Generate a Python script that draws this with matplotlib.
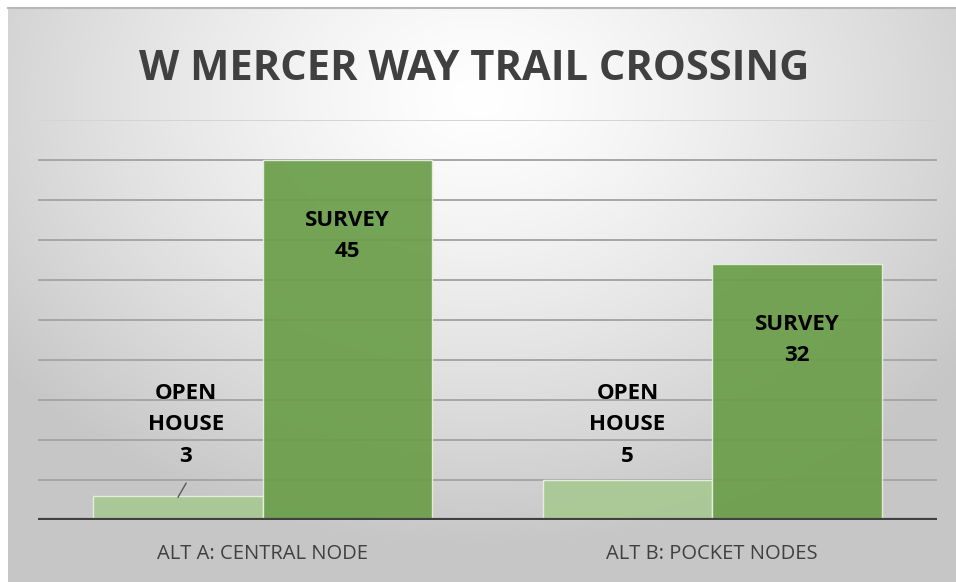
import numpy as np
import matplotlib
matplotlib.use("Agg")
import matplotlib.pyplot as plt

categories = ["ALT A: CENTRAL NODE", "ALT B: POCKET NODES"]
series_names = ["OPEN\nHOUSE", "SURVEY"]
open_house = [3, 5]
survey = [45, 32]
title = "W MERCER WAY TRAIL CROSSING"

W, H = 956, 582
fig = plt.figure(figsize=(W / 100, H / 100), dpi=100)
fig.patch.set_facecolor("white")

# gradient background panel
bg = fig.add_axes([8 / W, 0, 1 - 8 / W, 1 - 7 / H], zorder=0)
yy, xx = np.mgrid[0:575, 0:948]
cx, cy = 470, 90
r = np.sqrt(((xx - cx) / 1.0) ** 2 + ((yy - cy) / 0.75) ** 2)
r = r / r.max()
val = 1.0 - 0.22 * np.clip(r * 1.35, 0, 1) ** 1.3
img = np.dstack([val, val, val])
bg.imshow(img, aspect="auto", extent=[0, 1, 0, 1], interpolation="bilinear")
bg.set_xlim(0, 1); bg.set_ylim(0, 1)
bg.axis("off")
bg.plot([0, 1], [0.999, 0.999], color="#b8b8b8", lw=1.5, transform=bg.transAxes, clip_on=False)

ax = fig.add_axes([38 / W, (H - 520) / H, (937 - 38) / W, 400 / H], zorder=1)
ax.patch.set_alpha(0)
ax.set_xlim(-0.5, 1.5)
ax.set_ylim(0, 50)

x = np.arange(len(categories))
bw = 0.377
for y in range(5, 55, 5):
    ax.axhline(y, color="#a6a6a6" if y < 50 else "#d4d4d4", lw=1.4, zorder=1)

ax.bar(x - bw / 2, open_house, width=bw, color="#a9c995", alpha=0.95,
       edgecolor="#e8f0e2", linewidth=1.0, zorder=2)
ax.bar(x + bw / 2, survey, width=bw, color="#6b9e4a", alpha=0.93,
       edgecolor="#e8f0e2", linewidth=1.0, zorder=2)
ax.axhline(0, color="#404040", lw=3, zorder=3)

fam = ["Open Sans", "DejaVu Sans"]
lab_kw = dict(ha="center", va="center", fontsize=16, fontweight="bold",
              family=fam, color="black", linespacing=1.66, zorder=4)
# open house labels
for i, v in enumerate(open_house):
    ax.text(x[i] - bw / 2 + (0.017 if i == 0 else 0), 11.9,
            f"{series_names[0]}\n{v}", **lab_kw)
# leader line for the first
ax.plot([x[0] - bw / 2 + 0.018, x[0] - bw / 2 + 0.0], [4.6, 2.85],
        color="#595959", lw=1.0, zorder=4)
for i, v in enumerate(survey):
    ax.text(x[i] + bw / 2, v - 9.5, f"{series_names[1]}\n{v}", **lab_kw)

ax.set_xticks(x)
ax.set_xticklabels(categories, fontsize=14.5, color="#404040", family=fam)
ax.tick_params(axis="x", length=0, pad=17)
ax.set_yticks([])
for s in ax.spines.values():
    s.set_visible(False)

fig.text(474 / W, 1 - 70 / H, title, ha="center", va="center", fontsize=30,
         fontweight="bold", family=fam, color="#404040")

fig.savefig("out.png", dpi=100)
